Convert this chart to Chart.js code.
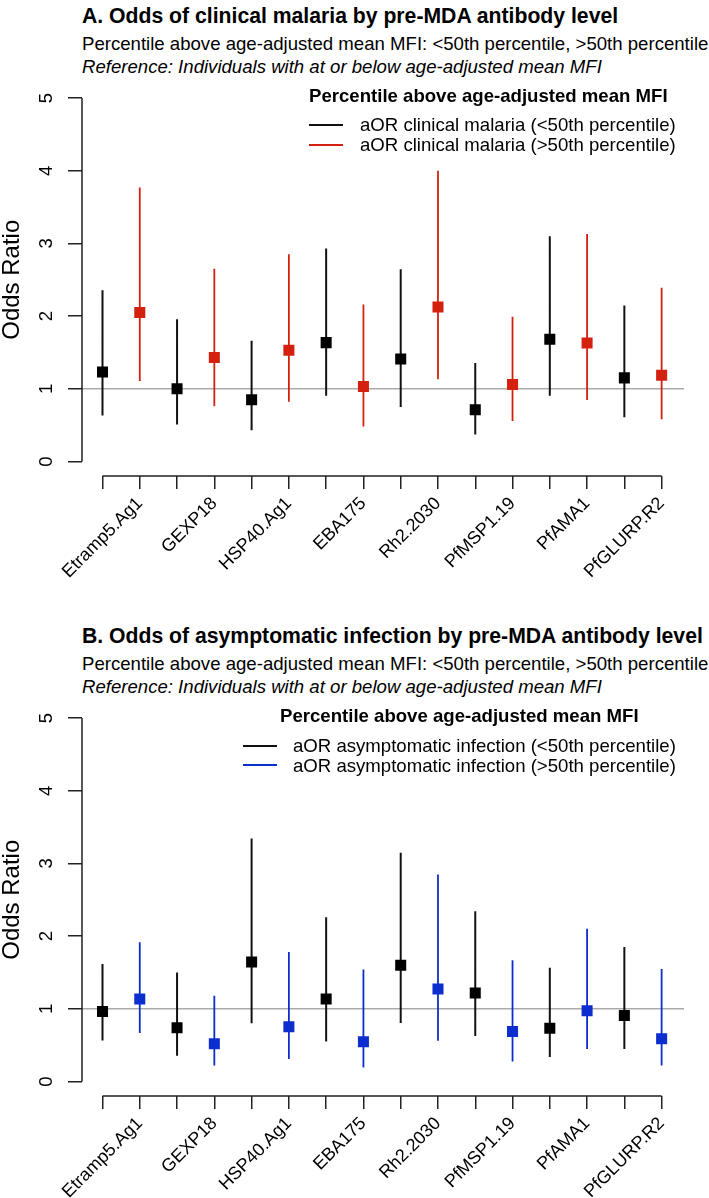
<!DOCTYPE html>
<html><head><meta charset="utf-8">
<script src="https://cdn.jsdelivr.net/npm/chart.js@4.4.1/dist/chart.umd.min.js"></script>
<style>
html,body{margin:0;padding:0;background:#fff}
body{width:709px;height:1198px;position:relative;overflow:hidden;font-family:"Liberation Sans",Arial,Helvetica,sans-serif;color:#000}
.t{position:absolute;white-space:nowrap;line-height:1}
.ttl{font-weight:bold;font-size:21.2px}
.sub{font-size:18.6px}
.it{font-size:18.6px;font-style:italic}
.lt{font-size:18.6px;font-weight:bold}
.li{font-size:18.6px}
.sw{position:absolute;height:2px;width:34px}
.pane{position:absolute;left:0;width:709px}
</style></head><body>

<div class="t ttl" style="left:82px;top:4.5px">A. Odds of clinical malaria by pre-MDA antibody level</div>
<div class="t sub" style="left:82px;top:34.7px">Percentile above age-adjusted mean MFI: &lt;50th percentile, &gt;50th percentile</div>
<div class="t it" style="left:82px;top:57.7px">Reference: Individuals with at or below age-adjusted mean MFI</div>

<div class="t ttl" style="left:82px;top:625px">B. Odds of asymptomatic infection by pre-MDA antibody level</div>
<div class="t sub" style="left:82px;top:655.2px">Percentile above age-adjusted mean MFI: &lt;50th percentile, &gt;50th percentile</div>
<div class="t it" style="left:82px;top:678.2px">Reference: Individuals with at or below age-adjusted mean MFI</div>

<div class="pane" style="top:0;height:600px"><canvas id="cA"></canvas></div>
<div class="pane" style="top:620px;height:578px"><canvas id="cB"></canvas></div>

<div class="t lt" style="left:309px;top:86.7px">Percentile above age-adjusted mean MFI</div>
<div class="sw" style="left:309px;top:124px;background:#111"></div>
<div class="t li" style="left:360px;top:116px">aOR clinical malaria (&lt;50th percentile)</div>
<div class="sw" style="left:309px;top:143.5px;background:#d4200f"></div>
<div class="t li" style="left:360px;top:136px">aOR clinical malaria (&gt;50th percentile)</div>

<div class="t lt" style="left:280px;top:707.2px">Percentile above age-adjusted mean MFI</div>
<div class="sw" style="left:243px;top:744.5px;background:#111"></div>
<div class="t li" style="left:293px;top:736.5px">aOR asymptomatic infection (&lt;50th percentile)</div>
<div class="sw" style="left:243px;top:764px;background:#0d2ecf"></div>
<div class="t li" style="left:293px;top:756.5px">aOR asymptomatic infection (&gt;50th percentile)</div>

<script>
const categories = ["Etramp5.Ag1","GEXP18","HSP40.Ag1","EBA175","Rh2.2030","PfMSP1.19","PfAMA1","PfGLURP.R2"];
const yTicks = [0,1,2,3,4,5];
const referenceOR = 1;

// Panel A: clinical malaria
const clinLowOR  = [1.23, 1.00, 0.85, 1.635, 1.41, 0.71, 1.68, 1.15];
const clinLowLo  = [0.634, 0.51, 0.43, 0.905, 0.75, 0.37, 0.905, 0.61];
const clinLowHi  = [2.355, 1.955, 1.66, 2.93, 2.645, 1.355, 3.10, 2.145];
const clinHighOR = [2.05, 1.43, 1.53, 1.03, 2.125, 1.06, 1.63, 1.185];
const clinHighLo = [1.106, 0.76, 0.82, 0.48, 1.13, 0.555, 0.845, 0.58];
const clinHighHi = [3.77, 2.65, 2.85, 2.16, 4.0, 1.99, 3.13, 2.39];

// Panel B: asymptomatic infection
const asymLowOR  = [0.964, 0.74, 1.645, 1.135, 1.598, 1.218, 0.733, 0.909];
const asymLowLo  = [0.565, 0.354, 0.80, 0.551, 0.804, 0.625, 0.336, 0.446];
const asymLowHi  = [1.617, 1.50, 3.343, 2.26, 3.146, 2.342, 1.566, 1.851];
const asymHighOR = [1.135, 0.519, 0.754, 0.547, 1.273, 0.688, 0.974, 0.588];
const asymHighLo = [0.667, 0.22, 0.308, 0.193, 0.56, 0.276, 0.446, 0.22];
const asymHighHi = [1.915, 1.18, 1.78, 1.539, 2.847, 1.667, 2.10, 1.548];

const FONT = '"Liberation Sans", Arial, Helvetica, sans-serif';
const X_MIN = 0.45, X_MAX = 16.6;

function posOf(i, k){ return 2*i + 1 + k; } // k=0 low, k=1 high

function barData(lo, hi, k){
  const d = [];
  lo.forEach((v,i)=>{
    const x = posOf(i,k);
    d.push({x, y: v}, {x, y: hi[i]}, {x, y: null});
  });
  return d;
}
function ptData(or, k){ return or.map((v,i)=>({x: posOf(i,k), y: v})); }

const rAxes = {
  id: 'rAxes',
  afterDraw(chart){
    const {ctx, chartArea} = chart;
    const xs = chart.scales.x, ys = chart.scales.y;
    ctx.save();
    ctx.strokeStyle = '#222';
    ctx.lineWidth = 1.5;
    ctx.beginPath();
    ctx.moveTo(chartArea.left, ys.getPixelForValue(yTicks[0]));
    ctx.lineTo(chartArea.left, ys.getPixelForValue(yTicks[yTicks.length-1]));
    ctx.moveTo(xs.getPixelForValue(1), chartArea.bottom);
    ctx.lineTo(xs.getPixelForValue(categories.length*2), chartArea.bottom);
    ctx.stroke();
    ctx.fillStyle = '#000';
    ctx.font = '18.6px ' + FONT;
    ctx.textAlign = 'center';
    ctx.textBaseline = 'alphabetic';
    yTicks.forEach(v=>{
      const py = ys.getPixelForValue(v);
      ctx.save();
      ctx.translate(52, py);
      ctx.rotate(-Math.PI/2);
      ctx.fillText(String(v), 0, 0);
      ctx.restore();
    });
    ctx.restore();
  }
};

function makePanel(id, H, lowOR, lowLo, lowHi, highOR, highLo, highHi, highColor){
  const ctx = document.getElementById(id);
  return new Chart(ctx, {
    type: 'line',
    data: {
      datasets: [
        {data: [{x: X_MIN, y: referenceOR}, {x: X_MAX, y: referenceOR}], borderColor: '#ababab', borderWidth: 1.5, pointRadius: 0, order: 10},
        {data: barData(lowLo, lowHi, 0), borderColor: '#111', borderWidth: 2, pointRadius: 0, spanGaps: false, order: 5},
        {data: barData(highLo, highHi, 1), borderColor: highColor, borderWidth: 1.8, pointRadius: 0, spanGaps: false, order: 5},
        {data: ptData(lowOR, 0), showLine: false, pointStyle: 'rect', pointRadius: 7.8, pointBackgroundColor: '#000', pointBorderWidth: 0, order: 1},
        {data: ptData(highOR, 1), showLine: false, pointStyle: 'rect', pointRadius: 7.8, pointBackgroundColor: highColor, pointBorderWidth: 0, order: 1}
      ]
    },
    options: {
      responsive: true, maintainAspectRatio: false, animation: false, devicePixelRatio: 1,
      layout: {padding: {top: 83.5, left: 0, right: 25, bottom: 0}, autoPadding: false},
      plugins: {legend: {display: false}, tooltip: {enabled: false}},
      elements: {line: {tension: 0}},
      scales: {
        x: {
          type: 'linear', min: X_MIN, max: X_MAX,
          afterBuildTicks: s => { s.ticks = categories.flatMap((c,i)=>[{value: posOf(i,0)}, {value: posOf(i,1)}]); },
          afterFit: s => { s.height = H - 476; },
          border: {display: false},
          grid: {display: true, drawOnChartArea: false, drawTicks: true, tickLength: 13, color: '#222', lineWidth: 1.5},
          ticks: {
            autoSkip: false, minRotation: 45, maxRotation: 45, padding: 4,
            color: '#000', font: {size: 18, family: FONT},
            callback: v => (v % 2 === 0 ? categories[v/2 - 1] : '')
          }
        },
        y: {
          type: 'linear', min: -0.2, max: 5.2,
          afterBuildTicks: s => { s.ticks = yTicks.map(v=>({value: v})); },
          afterFit: s => { s.width = 82; },
          border: {display: false},
          grid: {display: true, drawOnChartArea: false, drawTicks: true, tickLength: 14, color: '#222', lineWidth: 1.5},
          ticks: {display: false},
          title: {display: true, text: 'Odds Ratio', color: '#000', font: {size: 24, family: FONT, lineHeight: 1}, padding: {top: 0, bottom: 0}}
        }
      }
    },
    plugins: [rAxes]
  });
}

makePanel('cA', 600, clinLowOR, clinLowLo, clinLowHi, clinHighOR, clinHighLo, clinHighHi, '#d4200f');
makePanel('cB', 578, asymLowOR, asymLowLo, asymLowHi, asymHighOR, asymHighLo, asymHighHi, '#0d2ecf');
</script>
</body></html>
